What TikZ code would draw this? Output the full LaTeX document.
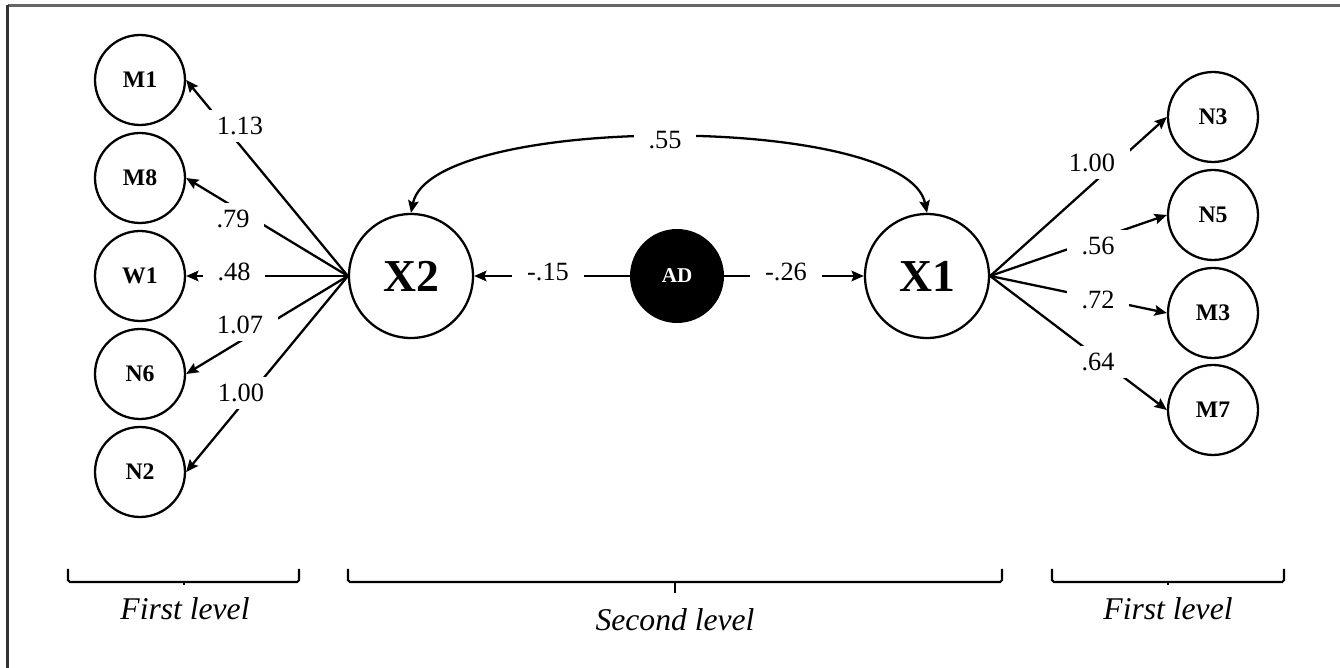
\documentclass[tikz,border=0pt]{standalone}
\usepackage{fontspec}
\setmainfont{Liberation Serif}
\usetikzlibrary{arrows.meta}

\begin{document}
\begin{tikzpicture}[x=0.02cm,y=-0.02cm,
    item/.style={circle,draw,line width=1.3pt,minimum size=1.8cm,inner sep=0pt,
      font=\fontsize{13.5}{15}\selectfont\bfseries},
    factor/.style={circle,draw,line width=1.3pt,minimum size=2.48cm,inner sep=0pt,
      font=\fontsize{26}{28}\selectfont\bfseries},
    cause/.style={circle,fill=black,minimum size=1.88cm,inner sep=0pt,text=white,
      font=\fontsize{12}{14}\selectfont\bfseries},
    coef/.style={fill=white,inner xsep=0.3cm,inner ysep=0.15cm,
      font=\fontsize{15}{17}\selectfont},
    load/.style={line width=1.3pt,-{Stealth[length=7pt,width=6pt,inset=1.2pt]}},
    bracket/.style={line width=1.2pt,rounded corners=1pt},
    level/.style={anchor=base,font=\fontsize{18}{20}\selectfont\itshape}]

\useasboundingbox (0,0) rectangle (1340,668);
\draw[line width=1.2pt,black!60] (7.5,5.5) -- (1340,5.5);
\draw[line width=1.2pt,black!80] (7.5,5.5) -- (7.5,668);

% first level, left
\node[item] (M1) at (140,80) {M1};
\node[item] (M8) at (140,178) {M8};
\node[item] (W1) at (140,276) {W1};
\node[item] (N6) at (140,374) {N6};
\node[item] (N2) at (140,472) {N2};

% first level, right
\node[item] (N3) at (1213,117) {N3};
\node[item] (N5) at (1213,215) {N5};
\node[item] (M3) at (1213,313) {M3};
\node[item] (M7) at (1213,410) {M7};

% second level
\node[factor] (X2) at (411,276) {X2};
\node[factor] (X1) at (927,276) {X1};
\node[cause] (AD) at (677,276) {AD};

\draw[load] (X2.west) -- (M1.east);
\draw[load] (X2.west) -- (M8.east);
\draw[load] (X2.west) -- (W1.east);
\draw[load] (X2.west) -- (N6.east);
\draw[load] (X2.west) -- (N2.east);

\draw[load] (X1.east) -- (N3.west);
\draw[load] (X1.east) -- (N5.west);
\draw[load] (X1.east) -- (M3.west);
\draw[load] (X1.east) -- (M7.west);

\draw[load] (AD.west) -- (X2.east);
\draw[load] (AD.east) -- (X1.west);
\draw[load,{Stealth[length=7pt,width=6pt,inset=1.2pt]}-{Stealth[length=7pt,width=6pt,inset=1.2pt]}]
  (X2.north) .. controls +(20,-100) and +(-20,-100) .. (X1.north);

% coefficients
\node[coef] (c1) at (240,126) {1.13};
\node[coef] (c2) at (233,219) {.79};
\node[coef] (c3) at (234,272) {.48};
\node[coef] (c4) at (240,325) {1.07};
\node[coef] (c5) at (241,393) {1.00};
\node[coef] (c6) at (1092,163) {1.00};
\node[coef] (c7) at (1098,246) {.56};
\node[coef] (c8) at (1098,300) {.72};
\node[coef] (c9) at (1098,362) {.64};
\node[coef] (c10) at (665,140) {.55};
\node[coef] (c11) at (548,272) {-.15};
\node[coef] (c12) at (786,272) {-.26};

% levels
\draw[bracket] (68,569) -- (68,582) -- (299,582) -- (299,569);
\draw[bracket] (184,582) -- (184,585);
\draw[bracket] (348,569) -- (348,582) -- (1002,582) -- (1002,569);
\draw[bracket] (675,582) -- (675,593);
\draw[bracket] (1052,569) -- (1052,582) -- (1284,582) -- (1284,569);
\draw[bracket] (1168,582) -- (1168,585);

\node[level] (f1) at (185,620) {First level};
\node[level] (s1) at (675,631) {Second level};
\node[level] (f2) at (1168,620) {First level};
\end{tikzpicture}
\end{document}
